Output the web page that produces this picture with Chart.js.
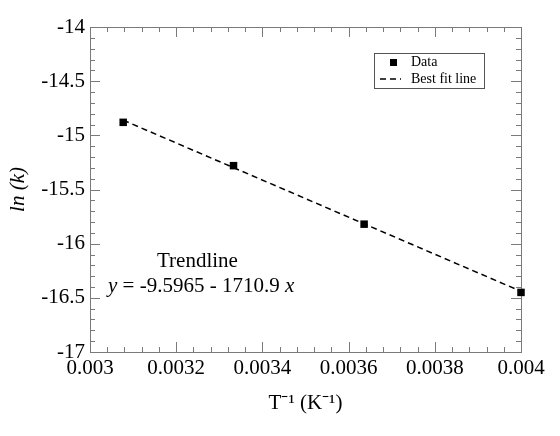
<!DOCTYPE html>
<html>
<head>
<meta charset="utf-8">
<script src="https://cdn.jsdelivr.net/npm/chart.js@4/dist/chart.umd.min.js"></script>
<style>
  html, body { margin: 0; padding: 0; background: #fff; }
  #wrap { width: 560px; height: 436px; }
</style>
</head>
<body>
<div id="wrap"><canvas id="chart-arrhenius" width="560" height="436"></canvas></div>
<script>
//*** DATA ***//
const invTemp = [0.003077, 0.003333, 0.003636, 0.004];
const lnK = [-14.88, -15.28, -15.82, -16.45];
const fitX = [0.003077, 0.004];
const fitY = [-14.86, -16.44];
const trendTitle = 'Trendline';
const trendEq = ['y', ' = -9.5965 - 1710.9 ', 'x'];

const serif = 'Liberation Serif';
const frameColor = '#7a7a7a';

//*** FUNCTIONS ***//
const isMajor = (v, step) => Math.abs(v / step - Math.round(v / step)) < 1e-6;

// frame + inward ticks on all four sides
const frameTicks = {
    id: 'frameTicks',
    beforeDatasetsDraw(chart) {
        const { ctx, chartArea: a, scales } = chart;
        ctx.save();
        ctx.strokeStyle = frameColor;
        ctx.lineWidth = 1;
        ctx.strokeRect(a.left + 0.5, a.top + 0.5, a.right - a.left, a.bottom - a.top);
        ctx.beginPath();
        scales.x.ticks.forEach(t => {
            const px = Math.round(scales.x.getPixelForValue(t.value)) + 0.5;
            const len = isMajor(t.value, 0.0002) ? 10 : 5;
            ctx.moveTo(px, a.bottom); ctx.lineTo(px, a.bottom - len);
            ctx.moveTo(px, a.top); ctx.lineTo(px, a.top + len);
        });
        scales.y.ticks.forEach(t => {
            const py = Math.round(scales.y.getPixelForValue(t.value)) + 0.5;
            const len = isMajor(t.value, 0.5) ? 10 : 5;
            ctx.moveTo(a.left, py); ctx.lineTo(a.left + len, py);
            ctx.moveTo(a.right, py); ctx.lineTo(a.right - len, py);
        });
        ctx.stroke();
        ctx.restore();
    }
};

// legend box + trendline text
const notes = {
    id: 'notes',
    afterDraw(chart) {
        const { ctx } = chart;
        const ds = chart.data.datasets;
        ctx.save();
        // legend
        ctx.fillStyle = '#fff';
        ctx.fillRect(374, 53, 110, 35);
        ctx.strokeStyle = '#555';
        ctx.lineWidth = 1;
        ctx.strokeRect(374.5, 53.5, 110, 35);
        ctx.fillStyle = '#000';
        ctx.fillRect(390, 59, 7, 7);
        ctx.strokeStyle = '#000';
        ctx.lineWidth = 1.5;
        ctx.setLineDash([6, 4]);
        ctx.beginPath();
        ctx.moveTo(380, 79); ctx.lineTo(401, 79);
        ctx.stroke();
        ctx.setLineDash([]);
        ctx.font = `14px "${serif}"`;
        ctx.textBaseline = 'middle';
        ctx.textAlign = 'left';
        ctx.fillText(ds[0].label, 411, 62);
        ctx.fillText(ds[1].label, 411, 79);

        // trendline note
        ctx.font = `21px "${serif}"`;
        ctx.textBaseline = 'alphabetic';
        ctx.fillText(trendTitle, 157, 267);
        let x = 108;
        trendEq.forEach((part, i) => {
            ctx.font = (i === 1 ? '' : 'italic ') + `21px "${serif}"`;
            ctx.fillText(part, x, 292);
            x += ctx.measureText(part).width;
        });
        ctx.restore();
    }
};

const initChart = (elem) => {
    return new Chart(elem, {
        type: 'scatter',
        data: {
            datasets: [{
                label: 'Data',
                data: invTemp.map((v, i) => ({ x: v, y: lnK[i] })),
                pointStyle: 'rect',
                pointRadius: 5.3,
                backgroundColor: '#000',
                borderColor: '#000',
                borderWidth: 0,
                showLine: false,
                clip: false,
                order: 0
            }, {
                label: 'Best fit line',
                data: fitX.map((v, i) => ({ x: v, y: fitY[i] })),
                showLine: true,
                pointRadius: 0,
                borderColor: '#000',
                borderWidth: 1.5,
                borderDash: [6, 4],
                clip: false,
                order: 1
            }]
        },
        options: {
            responsive: false,
            animation: false,
            layout: { padding: { left: 0, right: 39, top: 27, bottom: 0 } },
            plugins: {
                legend: { display: false },
                tooltip: { enabled: false }
            },
            scales: {
                x: {
                    type: 'linear',
                    min: 0.003,
                    max: 0.004,
                    afterFit: s => { s.height = 84; },
                    grid: { display: false, drawTicks: false },
                    border: { display: false },
                    ticks: {
                        stepSize: 0.00004,
                        autoSkip: false,
                        maxRotation: 0,
                        padding: 4,
                        color: '#000',
                        font: { family: serif, size: 21 },
                        callback: v => isMajor(v, 0.0002) ? String(Number(v.toFixed(4))) : ''
                    },
                    title: {
                        display: true,
                        text: 'T⁻¹ (K⁻¹)',
                        color: '#000',
                        font: { family: serif, size: 21 },
                        padding: { top: 0, bottom: 20 }
                    }
                },
                y: {
                    type: 'linear',
                    min: -17,
                    max: -14,
                    afterFit: s => { s.width = 90; },
                    grid: { display: false, drawTicks: false },
                    border: { display: false },
                    ticks: {
                        stepSize: 0.1,
                        autoSkip: false,
                        padding: 5,
                        color: '#000',
                        font: { family: serif, size: 21 },
                        callback: v => isMajor(v, 0.5) ? String(Number(v.toFixed(1))) : ''
                    },
                    title: {
                        display: true,
                        text: 'ln (k)',
                        color: '#000',
                        font: { family: serif, size: 21, style: 'italic' },
                        padding: { top: 6, bottom: 0 }
                    }
                }
            }
        },
        plugins: [frameTicks, notes]
    });
}

initChart(document.getElementById('chart-arrhenius'));
</script>
</body>
</html>
